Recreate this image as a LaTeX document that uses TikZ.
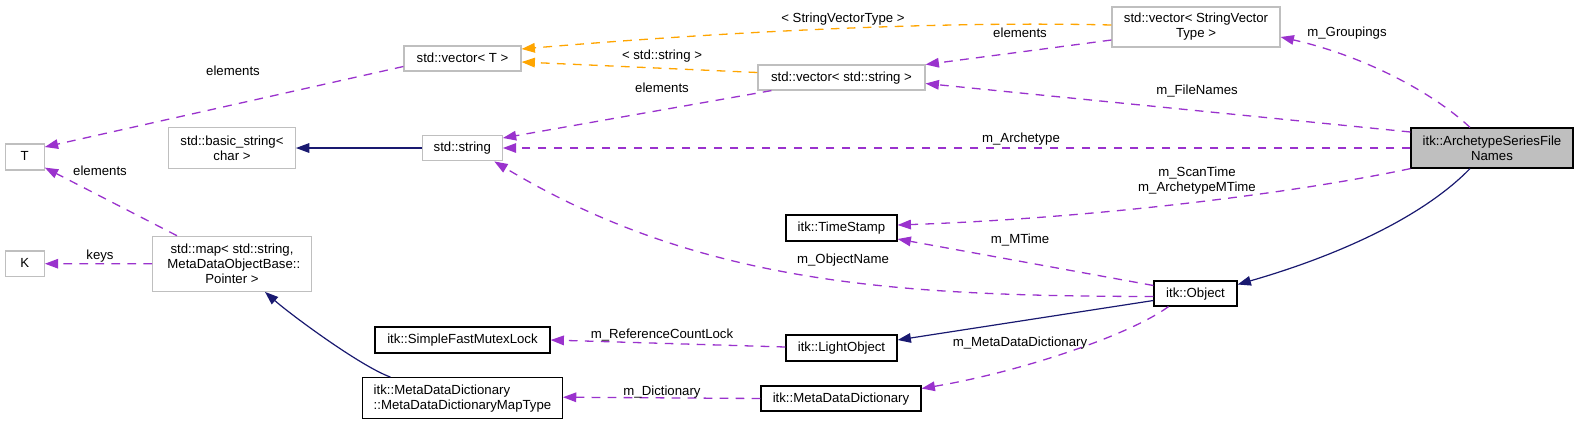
\documentclass[tikz,border=0pt]{standalone}
\usepackage{fontspec}
\setmainfont{Liberation Sans}
\usetikzlibrary{arrows.meta,calc}
\definecolor{purp}{HTML}{9A32CD}
\definecolor{orng}{HTML}{FFA500}
\definecolor{navy}{HTML}{191970}
\definecolor{gborder}{HTML}{BFBFBF}
\definecolor{gfill}{HTML}{BFBFBF}
\begin{document}
\begin{tikzpicture}[x=1pt,y=-1pt,
  every node/.style={font=\fontsize{13.2}{15}\selectfont, inner sep=0pt},
  one/.style={text height=9.8pt, text depth=2.2pt},
  boxg/.style={draw=gborder, line width=1.2pt, fill=white},
  boxb/.style={draw=black, line width=1.2pt, fill=white},
  uses/.style={purp, line width=1.3pt, dash pattern=on 8.7pt off 7.3pt,
     -{Triangle[length=13.3pt,width=9.6pt]}},
  tmpl/.style={orng, line width=1.3pt, dash pattern=on 8.7pt off 7.3pt,
     -{Triangle[length=13.3pt,width=9.6pt]}},
  inh/.style={navy, line width=1.2pt, -{Triangle[length=13.3pt,width=9.6pt]}},
  lbl/.style={one},
  lbl2/.style={align=center},
]
\useasboundingbox (0,0) rectangle (1579,424);

% nodes
\node[boxg, one, minimum width=39pt, minimum height=26pt] (T) at (24.7,157) {T};
\node[boxg, one, minimum width=39pt, minimum height=25.5pt] (K) at (24.8,263.7) {K};
\node[boxg, align=center, minimum width=126.7pt, minimum height=40.3pt] (basic) at (232,148) {std::basic\_string<\\char >};
\node[boxg, one, minimum width=80pt, minimum height=25.7pt] (str) at (462.3,148) {std::string};
\node[boxg, one, minimum width=117pt, minimum height=25pt] (vecT) at (462.5,58.5) {std::vector< T >};
\node[boxg, align=center, minimum width=158.7pt, minimum height=55pt] (map) at (232,263.8) {std::map< std::string,\\\ MetaDataObjectBase::\\Pointer >};
\node[boxb, one, minimum width=175pt, minimum height=26pt] (sfml) at (462.5,340) {itk::SimpleFastMutexLock};
\node[boxb, align=left, minimum width=199.7pt, minimum height=41pt] (maptype) at (462.5,398.2) {itk::MetaDataDictionary\\::MetaDataDictionaryMapType};
\node[boxg, one, minimum width=167pt, minimum height=25pt] (vecS) at (841.5,77.5) {std::vector< std::string >};
\node[boxb, one, minimum width=111pt, minimum height=26pt] (ts) at (841.5,228) {itk::TimeStamp};
\node[boxb, one, minimum width=111pt, minimum height=26pt] (lo) at (841.5,348) {itk::LightObject};
\node[boxb, one, minimum width=160pt, minimum height=25pt] (mdd) at (841,398.5) {itk::MetaDataDictionary};
\node[boxg, align=center, minimum width=168pt, minimum height=40pt] (vecSVT) at (1196,27) {std::vector< StringVector\\Type >};
\node[boxb, fill=gfill, align=center, minimum width=162pt, minimum height=40pt] (arch) at (1492,148) {itk::ArchetypeSeriesFile\\Names};
\node[boxb, one, minimum width=83pt, minimum height=25pt] (obj) at (1195.5,293.5) {itk::Object};

% edges
\draw[uses] ($(vecT.west)+(0,8)$) -- ($(T.east)+(0,-10)$);
\draw[uses] ($(map.north)+(-55,0)$) -- ($(T.south east)+(0,-3)$);
\draw[uses] (map.west) -- (K.east);
\draw[inh] (str.west) -- (basic.east);
\draw[uses] ($(vecS.south west)+(14,0)$) -- ($(str.east)+(0,-10)$);
\draw[uses] (arch.west) -- (str.east);
\draw[uses] ($(obj.west)+(0,3)$) .. controls (900,296) and (700,285) .. ($(str.south)+(32,0)$);
\draw[tmpl] ($(vecS.west)+(0,-5)$) -- ($(vecT.east)+(0,3.5)$);
\draw[tmpl] ($(vecSVT.west)+(0,-2)$) .. controls (900,20) and (650,38) .. ($(vecT.east)+(0,-9.5)$);
\draw[uses] ($(vecSVT.west)+(0,13)$) -- ($(vecS.east)+(0,-13)$);
\draw[uses] ($(arch.north)+(-22,0)$) .. controls (1430,90) and (1360,55) .. ($(vecSVT.east)+(0,10)$);
\draw[uses] ($(arch.west)+(0,-16)$) -- ($(vecS.east)+(0,6)$);
\draw[uses] (arch.south west) .. controls (1300,192) and (1100,218) .. ($(ts.east)+(0,-3)$);
\draw[uses] ($(obj.west)+(0,-8)$) -- ($(ts.east)+(0,11)$);
\draw[inh] ($(arch.south)+(-22,0)$) .. controls (1420,220) and (1330,258) .. ($(obj.east)+(0,-9)$);
\draw[inh] ($(obj.west)+(0,7)$) -- ($(lo.east)+(0,-8)$);
\draw[uses] ($(lo.west)+(0,-1)$) -- (sfml.east);
\draw[uses] ($(obj.south)+(-27,0)$) .. controls (1130,335) and (1020,372) .. ($(mdd.east)+(0,-10)$);
\draw[uses] (mdd.west) -- ($(maptype.east)+(0,-1)$);
\draw[inh] ($(maptype.north)+(-72,0)$) .. controls (360,366) and (290,314) .. ($(map.south)+(33,0)$);

% labels
\node[lbl] (l1) at (233,72) {elements};
\node[lbl] (l2) at (100,171.7) {elements};
\node[lbl] (l3) at (100,255.3) {keys};
\node[lbl] (l4) at (662,89) {elements};
\node[lbl] (l5) at (662,56) {< std::string >};
\node[lbl] (l6) at (843,19) {< StringVectorType >};
\node[lbl] (l7) at (1020,34) {elements};
\node[lbl] (l8) at (1347,33) {m\_Groupings};
\node[lbl] (l9) at (1197,91) {m\_FileNames};
\node[lbl] (l10) at (1021,139) {m\_Archetype};
\node[lbl2] (l11) at (1197,180.5) {m\_ScanTime\\m\_ArchetypeMTime};
\node[lbl] (l12) at (1020,240) {m\_MTime};
\node[lbl] (l13) at (843,260) {m\_ObjectName};
\node[lbl] (l14) at (662,335) {m\_ReferenceCountLock};
\node[lbl] (l15) at (1020,343) {m\_MetaDataDictionary};
\node[lbl] (l16) at (662,392) {m\_Dictionary};
\end{tikzpicture}
\end{document}
